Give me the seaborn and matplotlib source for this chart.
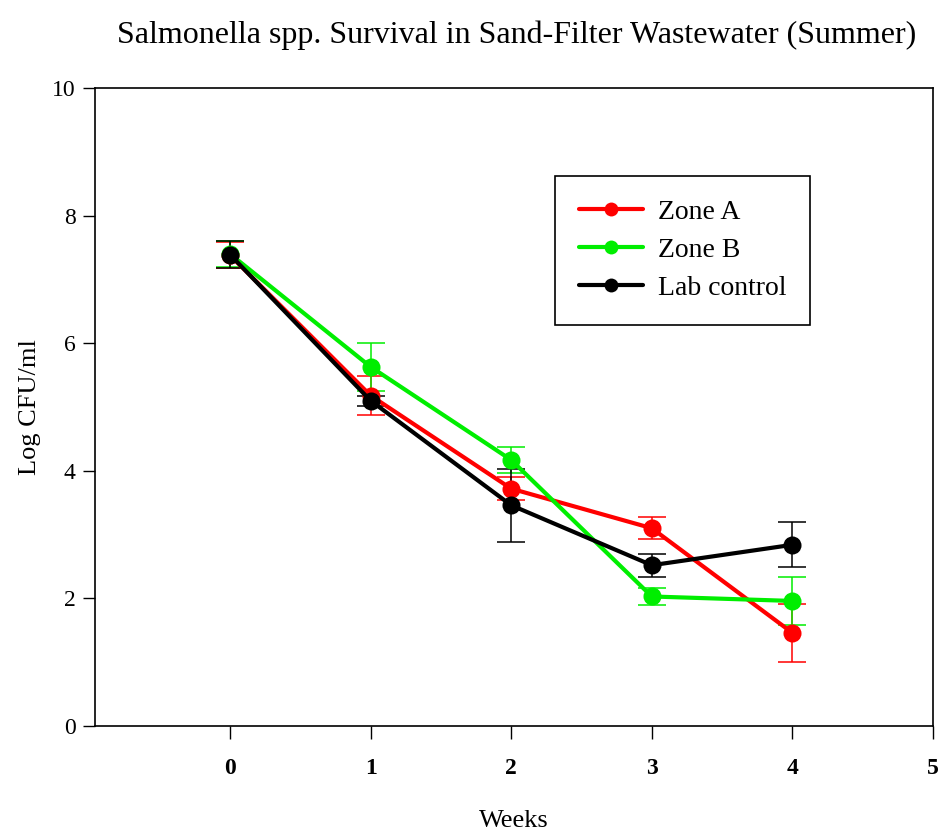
import pandas as pd
import matplotlib.pyplot as plt
import seaborn as sns

# data
weeks = [0, 1, 2, 3, 4]
zone_a = [7.38, 5.18, 3.72, 3.10, 1.46]
zone_a_err = [0.20, 0.31, 0.18, 0.17, 0.46]
zone_b = [7.40, 5.63, 4.17, 2.03, 1.96]
zone_b_err = [0.20, 0.38, 0.20, 0.14, 0.37]
lab_control = [7.39, 5.10, 3.46, 2.52, 2.84]
lab_control_err = [0.21, 0.08, 0.57, 0.18, 0.35]

series_names = ["Zone A", "Zone B", "Lab control"]
colors = {"Zone A": "#ff0000", "Zone B": "#00ee00", "Lab control": "#000000"}

df = pd.concat([
    pd.DataFrame({"Weeks": weeks, "Log": zone_a, "err": zone_a_err, "Series": "Zone A"}),
    pd.DataFrame({"Weeks": weeks, "Log": zone_b, "err": zone_b_err, "Series": "Zone B"}),
    pd.DataFrame({"Weeks": weeks, "Log": lab_control, "err": lab_control_err, "Series": "Lab control"}),
])

sns.set_style("ticks")
plt.rcParams['font.family'] = ['Liberation Serif', 'DejaVu Serif']
plt.rcParams['text.color'] = 'black'
plt.rcParams['axes.labelcolor'] = 'black'
plt.rcParams['xtick.color'] = 'black'
plt.rcParams['ytick.color'] = 'black'

fig = plt.figure(figsize=(9.43, 8.3), dpi=100)
ax = fig.add_axes([95 / 943, 1 - 726 / 830, 838 / 943, 638 / 830])

# error bars first, so the markers sit on top
for name in series_names:
    sub = df[df["Series"] == name]
    ax.errorbar(sub["Weeks"], sub["Log"], yerr=sub["err"], fmt="none",
                ecolor=colors[name], elinewidth=1.1, capsize=10, capthick=1.1, zorder=2)

sns.lineplot(data=df, x="Weeks", y="Log", hue="Series", hue_order=series_names,
             palette=colors, marker="o", markersize=13, markeredgewidth=0,
             linewidth=3, ax=ax, zorder=3)

ax.set_xlim(-0.96, 5)
ax.set_ylim(0, 10)
ax.set_xticks([0, 1, 2, 3, 4, 5])
ax.set_yticks([0, 2, 4, 6, 8, 10])
ax.tick_params(axis="x", labelsize=17, pad=14, length=9, width=1, direction="out")
ax.tick_params(axis="y", labelsize=17, pad=5, length=9, width=1, direction="out")
for lbl in ax.get_xticklabels():
    lbl.set_fontweight("bold")
for sp in ax.spines.values():
    sp.set_visible(True)
    sp.set_linewidth(1.2)
    sp.set_color("black")

ax.set_xlabel("Weeks", fontsize=19, labelpad=22)
ax.set_ylabel("Log CFU/ml", fontsize=19, labelpad=8)
fig.text(0.548, 0.957, "Salmonella spp. Survival in Sand-Filter Wastewater (Summer)",
         ha="center", va="center", fontsize=23)

leg = ax.legend(loc="upper left", bbox_to_anchor=(0.549, 0.862), fontsize=20,
                frameon=True, fancybox=False, edgecolor="black", framealpha=1,
                borderpad=0.85, handlelength=2.3, handletextpad=0.55, labelspacing=0.45,
                borderaxespad=0)
leg.get_frame().set_linewidth(1.2)
for h in leg.legend_handles:
    h.set_markersize(10)

fig.savefig("out.png", dpi=100)
